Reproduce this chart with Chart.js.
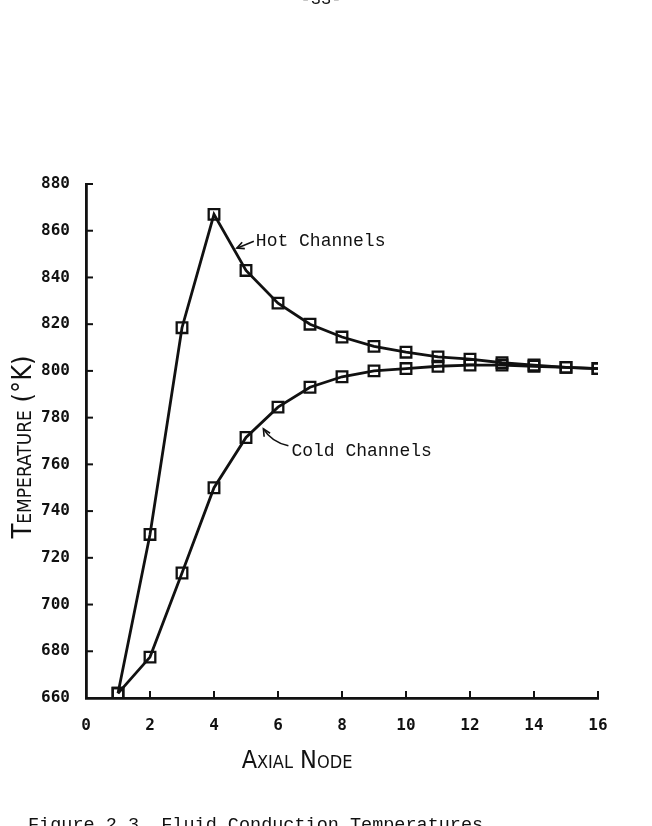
<!DOCTYPE html>
<html>
<head>
<meta charset="utf-8">
<script src="https://cdn.jsdelivr.net/npm/chart.js@4.4.1/dist/chart.umd.min.js"></script>
<style>
  html, body { margin: 0; padding: 0; background: #fff; }
  #wrap { width: 652px; height: 826px; }
</style>
</head>
<body>
<div id="wrap"><canvas id="tempGraph" width="652" height="826"></canvas></div>
<script>
// Axial nodes and fluid temperatures (K)
const nodes = [1, 2, 3, 4, 5, 6, 7, 8, 9, 10, 11, 12, 13, 14, 15, 16];
const hotChannels = [662, 730, 818.5, 867, 843, 829, 820, 814.5, 810.5, 808, 806, 805, 803.5, 802.5, 801.5, 801];
const coldChannels = [662, 677.5, 713.5, 750, 771.5, 784.5, 793, 797.5, 800, 801, 802, 802.5, 802.5, 802, 801.5, 801];

// Axis ranges and tick steps
const xTicks = [0, 2, 4, 6, 8, 10, 12, 14, 16];
const yTicks = [660, 680, 700, 720, 740, 760, 780, 800, 820, 840, 860, 880];

const INK = '#111';
const tickFont = { family: '"DejaVu Sans Mono", monospace', size: 16, weight: 'bold' };

function toPoints(values) {
  return nodes.map((n, i) => ({ x: n, y: values[i] }));
}

// Small open arrowhead pointing at (x2, y2)
function arrowHead(ctx, x1, y1, x2, y2) {
  const ang = Math.atan2(y2 - y1, x2 - x1);
  const len = 8;
  ctx.beginPath();
  ctx.moveTo(x2 - len * Math.cos(ang - 0.45), y2 - len * Math.sin(ang - 0.45));
  ctx.lineTo(x2, y2);
  ctx.lineTo(x2 - len * Math.cos(ang + 0.45), y2 - len * Math.sin(ang + 0.45));
  ctx.stroke();
}

// Point along the line between two data points, in pixels
function along(chart, values, i, t) {
  const xs = chart.scales.x, ys = chart.scales.y;
  const x1 = xs.getPixelForValue(nodes[i]), y1 = ys.getPixelForValue(values[i]);
  const x2 = xs.getPixelForValue(nodes[i + 1]), y2 = ys.getPixelForValue(values[i + 1]);
  return { x: x1 + (x2 - x1) * t, y: y1 + (y2 - y1) * t };
}

const decorations = {
  id: 'decorations',
  beforeDraw(chart) {
    const ctx = chart.ctx;
    ctx.save();
    ctx.fillStyle = '#fff';
    ctx.fillRect(0, 0, chart.width, chart.height);
    ctx.restore();
  },
  afterDraw(chart) {
    const ctx = chart.ctx;
    const xs = chart.scales.x, ys = chart.scales.y;
    const area = chart.chartArea;
    ctx.save();
    ctx.strokeStyle = INK;
    ctx.fillStyle = INK;

    // inward tick marks
    ctx.lineWidth = 2;
    xTicks.forEach(v => {
      if (v === 0) return;
      const px = xs.getPixelForValue(v);
      ctx.beginPath();
      ctx.moveTo(px, area.bottom);
      ctx.lineTo(px, area.bottom - 7);
      ctx.stroke();
    });
    yTicks.forEach(v => {
      if (v === 660) return;
      const py = ys.getPixelForValue(v);
      ctx.beginPath();
      ctx.moveTo(area.left, py);
      ctx.lineTo(area.left + 7, py);
      ctx.stroke();
    });

    // "Hot Channels" label with arrow
    ctx.lineWidth = 1.6;
    const hot = along(chart, hotChannels, 3, 0.62);
    const hTip = { x: hot.x + 3, y: hot.y - 1 };
    ctx.beginPath();
    ctx.moveTo(hTip.x + 17, hTip.y - 7);
    ctx.lineTo(hTip.x, hTip.y);
    ctx.stroke();
    arrowHead(ctx, hTip.x + 17, hTip.y - 7, hTip.x, hTip.y);
    ctx.font = '18px "Liberation Mono", monospace';
    ctx.textBaseline = 'middle';
    ctx.textAlign = 'left';
    ctx.fillText('Hot Channels', hTip.x + 19, hTip.y - 7);

    // "Cold Channels" label with curved arrow
    const cold = along(chart, coldChannels, 4, 0.45);
    const cTip = { x: cold.x + 3, y: cold.y + 5 };
    ctx.beginPath();
    ctx.moveTo(cTip.x + 25, cTip.y + 17);
    ctx.quadraticCurveTo(cTip.x + 8, cTip.y + 13, cTip.x, cTip.y);
    ctx.stroke();
    arrowHead(ctx, cTip.x + 6, cTip.y + 10, cTip.x, cTip.y);
    ctx.fillText('Cold Channels', cTip.x + 28, cTip.y + 22);

    // axis titles in small caps
    ctx.font = 'small-caps 25px "DejaVu Sans Condensed", sans-serif';
    ctx.textAlign = 'center';
    ctx.textBaseline = 'middle';
    ctx.fillText('Axial Node', 297, 761);
    ctx.save();
    ctx.translate(24, 447);
    ctx.rotate(-Math.PI / 2);
    ctx.font = 'small-caps 27px "DejaVu Sans Condensed", sans-serif';
    ctx.fillText('Temperature (\u00B0K)', 0, 0);
    ctx.restore();

    // page number and caption, cut by the page edges
    ctx.font = '17px "Liberation Mono", monospace';
    ctx.textBaseline = 'alphabetic';
    ctx.fillText('-33-', 321, 4);
    ctx.textAlign = 'left';
    ctx.font = '18.5px "Liberation Mono", monospace';
    ctx.fillText('Figure 2.3. Fluid Conduction Temperatures', 28, 830);
    ctx.restore();
  }
};

function makeDataset(label, values) {
  return {
    label: label,
    data: toPoints(values),
    borderColor: INK,
    borderWidth: 2.8,
    tension: 0,
    pointStyle: 'rect',
    pointRadius: 7.5,
    pointBorderWidth: 2.3,
    pointBorderColor: INK,
    pointBackgroundColor: 'rgba(0,0,0,0)'
  };
}

const ctx = document.getElementById('tempGraph').getContext('2d');
const graph = new Chart(ctx, {
  type: 'line',
  data: {
    datasets: [
      makeDataset('Hot Channels', hotChannels),
      makeDataset('Cold Channels', coldChannels)
    ]
  },
  options: {
    responsive: false,
    animation: false,
    layout: { padding: { top: 184, right: 54, bottom: 88, left: 0 } },
    plugins: { legend: { display: false }, tooltip: { enabled: false } },
    scales: {
      x: {
        type: 'linear',
        min: xTicks[0],
        max: xTicks[xTicks.length - 1],
        afterBuildTicks: s => { s.ticks = xTicks.map(v => ({ value: v })); },
        afterFit: s => { s.height = 40; },
        ticks: { font: tickFont, color: INK, padding: 10, maxRotation: 0 },
        grid: { display: false },
        border: { display: true, color: INK, width: 2.8 }
      },
      y: {
        type: 'linear',
        min: yTicks[0],
        max: yTicks[yTicks.length - 1],
        afterBuildTicks: s => { s.ticks = yTicks.map(v => ({ value: v })); },
        afterFit: s => { s.width = 86; },
        ticks: { font: tickFont, color: INK, padding: 8 },
        grid: { display: false },
        border: { display: true, color: INK, width: 2.8 }
      }
    }
  },
  plugins: [decorations]
});
</script>
</body>
</html>
